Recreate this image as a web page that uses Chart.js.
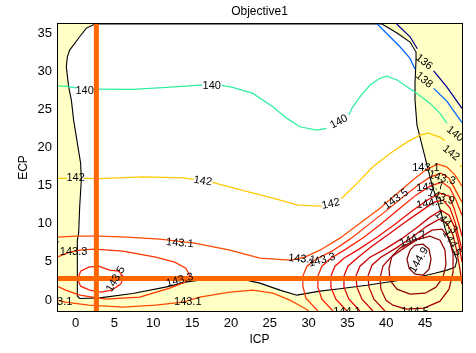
<!DOCTYPE html>
<html>
<head>
<meta charset="utf-8">
<title>Objective1</title>
<script src="https://cdn.jsdelivr.net/npm/chart.js@4.4.0/dist/chart.umd.min.js"></script>
<style>
  html, body { margin: 0; padding: 0; background: #fff; }
</style>
</head>
<body>
<canvas id="chartObjetivo" width="476" height="353"></canvas>
<script>
// ==========================================
// OBJECTIVE1 - CONTORNOS ICP / ECP
// ==========================================

const FUENTE = '"Liberation Sans", Arial, sans-serif';

// --- 1. EJES ---
const rangoX = [-2.4, 49.75];
const rangoY = [-1.45, 36.25];
const ticksX = [0, 5, 10, 15, 20, 25, 30, 35, 40, 45];
const ticksY = [0, 5, 10, 15, 20, 25, 30, 35];

// cursor (ICP, ECP) seleccionado
const cursorICP = 2.67;
const cursorECP = 2.83;

// --- 2. DATOS: frontera de la region factible y curvas de nivel ---
const regionFactible = [
  [2.54,36.25],[1.38,35.71],[0.52,34.57],[-0.77,32.82],[-1.07,31.94],[-1.2,30.63],[-0.9,28.0],[-0.55,26.25],
  [-0.26,23.63],[0.3,20.12],[0.64,17.98],[0.73,15.74],[0.52,12.23],[0.39,8.78],[0.22,7.86],[0.22,0.5],
  [0.52,0.2],[3.09,0.28],[7.35,0.85],[11.73,1.72],[14.31,2.38],[16.89,2.73],[21.14,2.8],[23.72,2.21],
  [26.3,1.29],[28.49,0.63],[31.45,1.16],[34.03,1.48],[37.51,1.94],[40.47,2.4],[43.44,2.86],[46.27,3.52],
  [47.82,3.92],[48.85,4.31],[49.11,5.23],[48.46,6.81],[47.56,9.43],[47.05,11.54],[46.53,13.11],[45.89,15.08],
  [45.24,17.71],[44.6,20.34],[43.95,22.97],[43.7,26.25],[43.7,28.49],[43.83,31.51],[43.83,32.56],[43.06,33.88],
  [41.38,35.06],[39.44,36.25],[2.54,36.25]
];

const c136 = [[41.34,36.25],[43.06,34.57],[44.0,33.0],[45.0,null],[46.1,30.1],[47.79,28.0],[49.75,25.16]];
const c138 = [[38.84,36.25],[40.47,34.57],[41.76,33.26],[43.06,31.73],[43.7,30.3],[45.0,null],[46.1,27.8],[47.79,26.12],[49.75,23.3]];
const c140 = [
  [-2.4,28.13],[-1.2,28.05],[0.1,27.85],[1.2,null],[2.3,27.68],[7.35,27.66],[11.73,27.92],[15.98,28.23],[16.3,28.23],
  [17.5,null],[18.8,28.2],[20.24,27.92],[22.82,27.13],[25.39,25.37],[27.2,23.85],[28.87,22.75],[31.06,22.31],[32.3,22.55],
  [33.6,null],[35.2,24.3],[35.58,25.2],[36.61,26.69],[37.9,28.23],[39.19,29.11],[40.09,29.41],[41.38,28.89],[42.67,28.0],
  [43.96,27.13],[45.63,25.82],[46.92,24.51],[47.82,23.19]
];
const c142 = [
  [-2.4,15.97],[-1.1,15.97],[0,null],[1.1,15.97],[3.09,15.94],[8.64,16.18],[13.79,16.04],[15.2,15.85],[16.4,null],
  [17.6,15.45],[21.14,14.49],[25.39,13.38],[28.62,12.46],[31.7,12.33],[32.9,null],[34.2,13.3],[36.22,15.31],[38.28,17.49],
  [40.47,19.25],[42.67,20.73],[44.34,21.65],[45.37,21.92],[46.92,21.39],[47.5,20.9],[48.4,null],[49.5,17.7],[49.75,17.45]
];
const c1431a = [
  [-2.4,8.25],[0,8.38],[3.09,8.38],[6.57,8.25],[10.83,7.99],[15.34,7.46],[19.85,6.54],[23.72,5.49],[27.59,5.22],
  [29.52,5.62],[31.45,6.54],[34.03,8.12],[36.61,10.09],[39.19,12.06],[41.76,14.3],[43.7,16.0],[45.24,17.19],
  [46.66,17.84],[47.82,17.45],[48.85,16.4],[49.75,14.95]
];
const c1431b = [
  [-2.4,-0.03],[-1.29,-0.29],[1.68,-0.68],[6.06,-0.95],[10.31,-0.68],[13.79,-0.29],[15.98,0.37],[19.85,1.02],
  [22.82,1.29],[25.39,0.89],[27.59,-0.03],[29.26,-0.95],[30.03,-1.45]
];
const c1433a = [
  [-2.4,5.62],[-0.77,6.28],[0.52,6.54],[2.45,6.68],[6.06,6.41],[10.31,5.62],[12.76,4.97],[14.18,4.18],[14.69,3.26],
  [14.05,2.34],[12.12,1.55],[8.25,0.37],[3.87,0.11],[0.52,0.63],[-1.29,1.29],[-2.4,1.81]
];
const c1433b = [
  [31.19,-1.45],[29.65,0.24],[29.26,1.81],[29.26,3.13],[29.78,4.44],[30.94,5.36],[33.0,6.41],[35.32,7.99],[37.64,9.83],
  [40.09,11.8],[42.28,13.64],[44.08,15.08],[45.63,16.13],[47.05,16.66],[48.08,16.0],[48.85,14.56],[49.75,12.85]
];
const c1435a = [
  [4.38,3.92],[2.96,4.44],[1.68,4.31],[0.64,3.78],[0.26,2.73],[0.64,1.81],[1.8,1.29],[3.22,1.02],[4.64,1.29],
  [5.8,2.08],[6.19,3.0],[5.54,3.78],[4.38,3.92]
];
const c1435b = [
  [33.13,-1.45],[31.71,0.11],[31.19,1.68],[31.19,3.13],[31.71,4.44],[32.87,5.49],[34.8,6.68],[37.12,8.25],[39.44,10.09],
  [41.76,12.06],[43.83,13.77],[45.63,14.95],[47.18,15.48],[48.21,14.69],[48.98,13.11],[49.75,11.14]
];
const c1437 = [
  [34.93,-1.45],[33.51,0.11],[32.87,1.68],[32.87,3.13],[33.39,4.44],[34.55,5.49],[36.48,6.68],[38.8,8.25],[41.12,9.96],
  [43.31,11.67],[45.24,13.11],[46.92,14.03],[48.08,13.64],[48.72,12.06],[49.37,9.83],[49.75,8.38]
];
const c1439 = [
  [36.61,-1.45],[35.19,0.11],[34.55,1.68],[34.55,3.13],[35.06,4.44],[36.22,5.49],[38.15,7.07],[40.35,8.65],[42.41,10.22],
  [44.47,11.67],[46.14,12.85],[47.31,13.11],[48.21,12.06],[48.85,10.22],[49.37,8.12],[49.75,6.54]
];
const c1441 = [
  [38.28,-1.45],[36.87,0.11],[36.22,1.68],[36.09,3.13],[36.61,4.44],[37.9,5.62],[39.83,6.68],[41.89,7.99],[43.83,9.43],
  [45.63,10.88],[47.05,11.8],[48.08,11.14],[48.85,9.43],[49.37,7.2],[49.75,4.97]
];
const c1443 = [
  [39.83,-1.45],[38.41,0.11],[37.77,1.68],[37.64,3.13],[38.15,4.57],[39.31,5.62],[41.25,6.81],[43.31,8.25],[45.24,9.7],
  [46.79,10.62],[47.82,10.09],[48.6,8.51],[49.11,6.28],[49.5,3.92],[49.75,2.08]
];
const c1445 = [
  [39.96,-0.03],[39.31,1.42],[39.19,2.86],[39.57,4.44],[40.6,5.62],[42.28,6.81],[44.21,8.12],[45.89,9.17],[47.18,9.3],
  [48.08,8.12],[48.6,6.02],[48.6,3.65],[48.08,1.42],[46.92,-0.16],[44.86,-1.08],[42.54,-1.21],[40.86,-0.68],[39.96,-0.03]
];
const c1447 = [
  [40.73,5.76],[40.35,4.18],[40.47,2.6],[41.38,1.42],[43.06,0.76],[44.99,0.89],[46.4,1.68],[47.31,3.0],[47.69,4.7],
  [47.56,6.54],[46.92,7.86],[45.63,8.38],[43.7,7.86],[41.76,6.81],[40.73,5.76]
];
const c1449 = [
  [43.06,6.54],[42.67,5.36],[42.93,4.18],[43.7,3.39],[44.73,3.26],[45.5,4.05],[45.76,5.36],[45.5,6.68],[44.73,7.33],
  [43.7,7.2],[43.06,6.54]
];

// etiquetas de nivel: [ICP, ECP, angulo, texto]
const etiquetas = [
  [44.86,31.25,38,'136'], [44.86,28.88,40,'138'],
  [1.16,27.5,0,'140'], [17.53,28.09,0,'140'], [33.9,23.4,-28,'140'], [48.85,21.79,38,'140'],
  [0,16.0,0,'142'], [16.37,15.61,8,'142'], [32.87,12.6,-12,'142'], [48.34,19.3,38,'142'],
  [-3.87,7.9,-3,'143.1'], [-0.26,6.28,0,'143.3'], [13.41,7.46,5,'143.1'], [13.41,2.6,-15,'143.3'],
  [5.16,2.73,-60,'143.5'], [-2.19,-0.29,0,'143.1'], [14.44,-0.29,0,'143.1'],
  [29.13,5.36,5,'143.1'], [31.71,5.23,-15,'143.3'],
  [45.11,17.32,0,'143.1'], [47.18,16.0,15,'143.3'], [41.25,13.25,-35,'143.5'], [45.63,14.82,-5,'143.7'],
  [47.05,13.51,20,'143.9'], [45.63,12.72,-10,'144.1'], [47.69,10.22,45,'144.3'], [48.47,7.46,60,'144.5'],
  [43.44,7.99,-20,'144.7'], [44.21,5.23,-60,'144.9'], [43.7,-1.6,0,'144.5'], [34.93,-1.6,0,'144.1']
];

// --- 3. DATASETS ---
function linea(puntos, color, extra) {
  return Object.assign({
    data: puntos.map(([x, y]) => ({ x, y })),
    showLine: true,
    borderColor: color,
    borderWidth: 1.25,
    pointRadius: 0,
    fill: false,
    tension: 0,
    clip: 0,
    order: 50
  }, extra || {});
}

const curvas = [
  [c136, '#000090'], [c138, '#0066ff'], [c140, '#30f0a0'], [c142, '#ffc800'],
  [c1431a, '#ff4a00'], [c1431b, '#ff4a00'], [c1433a, '#ff3300'], [c1433b, '#ff3300'],
  [c1435a, '#ff1c00'], [c1435b, '#ff1c00'], [c1437, '#f20800'], [c1439, '#e00000'],
  [c1441, '#cc0000'], [c1443, '#b80000'], [c1445, '#a40000'], [c1447, '#920000'], [c1449, '#800000']
];

const datasets = [
  linea(regionFactible, '#000000', { fill: 'shape', backgroundColor: '#ffffff', borderWidth: 1.1, order: 100 }),
  ...curvas.map(([p, col]) => linea(p, col)),
  linea([[cursorICP, rangoY[0]], [cursorICP, rangoY[1]]], '#ff6600', { borderWidth: 5, order: 11 }),
  linea([[rangoX[0], cursorECP], [rangoX[1], cursorECP]], '#ff6600', { borderWidth: 5, order: 10 })
];

// --- 4. PLUGINS: fondo amarillo, marco y etiquetas ---
const fondoPlot = {
  id: 'fondoPlot',
  beforeDraw(chart) {
    const { ctx, chartArea: a } = chart;
    ctx.save();
    ctx.fillStyle = '#ffffff';
    ctx.fillRect(0, 0, chart.width, chart.height);
    ctx.fillStyle = '#ffffc6';
    ctx.fillRect(a.left, a.top, a.right - a.left, a.bottom - a.top);
    ctx.restore();
  },
  afterDraw(chart) {
    const { ctx, chartArea: a } = chart;
    ctx.save();
    ctx.strokeStyle = '#000';
    ctx.lineWidth = 1;
    ctx.strokeRect(a.left + 0.5, a.top - 0.5, a.right - a.left, a.bottom - a.top + 1);
    ctx.restore();
  }
};

const etiquetasNivel = {
  id: 'etiquetasNivel',
  afterDatasetsDraw(chart) {
    const { ctx, chartArea: a, scales } = chart;
    ctx.save();
    ctx.beginPath();
    ctx.rect(a.left, a.top, a.right - a.left, a.bottom - a.top);
    ctx.clip();
    ctx.font = '11px ' + FUENTE;
    ctx.fillStyle = '#000';
    ctx.textAlign = 'center';
    ctx.textBaseline = 'middle';
    etiquetas.forEach(([vx, vy, ang, txt]) => {
      ctx.save();
      ctx.translate(scales.x.getPixelForValue(vx), scales.y.getPixelForValue(vy));
      ctx.rotate(ang * Math.PI / 180);
      ctx.fillText(txt, 0, 0);
      ctx.restore();
    });
    ctx.restore();
  }
};

// --- 5. GRAFICO ---
const ctx = document.getElementById('chartObjetivo').getContext('2d');
new Chart(ctx, {
  type: 'scatter',
  data: { datasets },
  plugins: [fondoPlot, etiquetasNivel],
  options: {
    responsive: false,
    animation: false,
    devicePixelRatio: 1,
    layout: { padding: { left: 0, right: 14, top: 0, bottom: 0 } },
    plugins: {
      legend: { display: false },
      tooltip: { enabled: false },
      title: {
        display: true,
        fullSize: false,
        text: 'Objective1',
        color: '#000',
        font: { family: FUENTE, size: 12, weight: 'normal' },
        padding: { top: 4, bottom: 5.6 }
      }
    },
    scales: {
      x: {
        type: 'linear',
        min: rangoX[0],
        max: rangoX[1],
        afterBuildTicks: (eje) => { eje.ticks = ticksX.map(v => ({ value: v })); },
        afterFit: (eje) => { eje.height = 42; },
        grid: { display: false, drawTicks: false },
        border: { display: false },
        ticks: { color: '#000', font: { family: FUENTE, size: 13 }, padding: 5, maxRotation: 0, autoSkip: false },
        title: { display: true, text: 'ICP', color: '#000', font: { family: FUENTE, size: 12 }, padding: { top: 0, bottom: 6 } }
      },
      y: {
        type: 'linear',
        min: rangoY[0],
        max: rangoY[1],
        afterBuildTicks: (eje) => { eje.ticks = ticksY.map(v => ({ value: v })); },
        afterFit: (eje) => { eje.width = 57; },
        grid: { display: false, drawTicks: false },
        border: { display: false },
        ticks: { color: '#000', font: { family: FUENTE, size: 13 }, padding: 5, autoSkip: false },
        title: { display: true, text: 'ECP', color: '#000', font: { family: FUENTE, size: 12 }, padding: { top: 16, bottom: 0 } }
      }
    }
  }
});
</script>
</body>
</html>
